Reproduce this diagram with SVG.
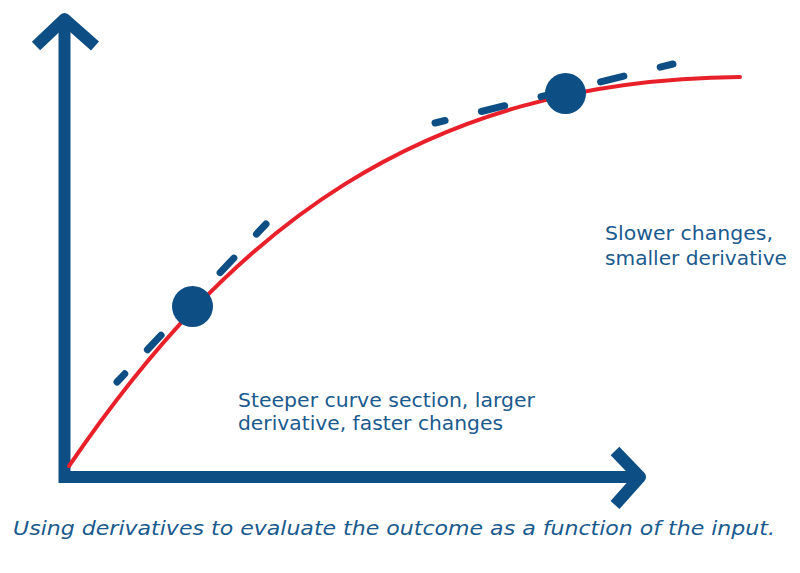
<svg xmlns="http://www.w3.org/2000/svg" width="800" height="573" viewBox="0 0 800 573">
  <style>
    .axis { fill: none; stroke: #0d4e84; stroke-width: 12; }
    .curve { fill: none; stroke: #e8202a; stroke-width: 4; stroke-linecap: round; }
    .tangent { fill: none; stroke: #0d4e84; stroke-width: 7; stroke-linecap: round; }
    .dot { fill: #0d4e84; }
    .label { font-family: "DejaVu Sans", "Liberation Sans", sans-serif; font-size: 20px; fill: #1a5a8e; }
    .caption { font-family: "DejaVu Sans", "Liberation Sans", sans-serif; font-size: 20px; font-style: italic; fill: #1a5a8e; }
  </style>
  <rect width="800" height="573" fill="#ffffff"/>
  <g id="axes">
    <path class="axis" d="M64.5,20 V477 H639" stroke-linejoin="miter"/>
    <polyline class="axis" points="36,46 64.5,19 95,46" stroke-linejoin="round"/>
    <polyline class="axis" points="615,451 640,477 615,505" stroke-linejoin="round"/>
  </g>
  <g id="curve">
    <path class="curve" d="M69,466 C230,230 420,80 740,77"/>
  </g>
  <g id="connectors">
    <line class="tangent" x1="117" y1="382" x2="266" y2="224" stroke-dasharray="20 33" stroke-dashoffset="8.7"/>
    <line class="tangent" x1="435" y1="123" x2="673" y2="64" stroke-dasharray="24 37.4" stroke-dashoffset="13.6"/>
  </g>
  <g id="point-steep">
    <circle class="dot" cx="192.5" cy="306.5" r="20.5"/>
  </g>
  <g id="point-flat">
    <circle class="dot" cx="565.5" cy="93.5" r="20.5"/>
  </g>
  <g id="label-steep">
    <text class="label" x="238" y="407" textLength="297" lengthAdjust="spacingAndGlyphs">Steeper curve section, larger</text>
    <text class="label" x="238" y="430" textLength="265" lengthAdjust="spacingAndGlyphs">derivative, faster changes</text>
  </g>
  <g id="label-flat">
    <text class="label" x="605" y="240" textLength="168" lengthAdjust="spacingAndGlyphs">Slower changes,</text>
    <text class="label" x="605" y="265" textLength="182" lengthAdjust="spacingAndGlyphs">smaller derivative</text>
  </g>
  <g id="caption">
    <text class="caption" x="13" y="535" textLength="762" lengthAdjust="spacingAndGlyphs">Using derivatives to evaluate the outcome as a function of the input.</text>
  </g>
</svg>
